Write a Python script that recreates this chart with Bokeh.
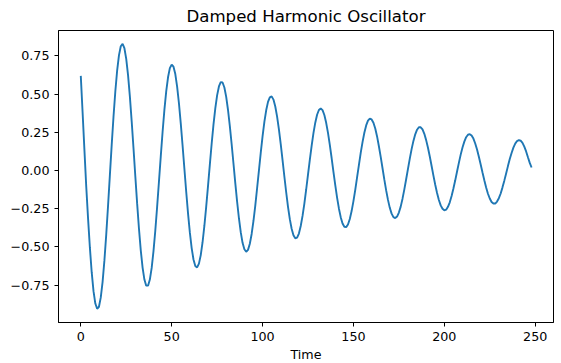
from bokeh.plotting import figure
from bokeh.models import Range1d, FixedTicker, CustomJSTickFormatter
from bokeh.embed import file_html
from bokeh.resources import INLINE

title_text = "Damped Harmonic Oscillator"
x_label = "Time"

# sample times (one per time unit, 0 .. 248)
time = list(range(249))

# displacement
displacement = [
    0.619, 0.38, 0.135, -0.104, -0.313, -0.503, -0.665, -0.789, -0.870, -0.904,
    -0.891, -0.830, -0.728, -0.588, -0.419, -0.230, -0.032, 0.166, 0.352, 0.517,
    0.653, 0.753, 0.813, 0.828, 0.800, 0.730, 0.624, 0.485, 0.322, 0.146,
    -0.037, -0.215, -0.379, -0.522, -0.635, -0.713, -0.753, -0.753, -0.713, -0.637,
    -0.527, -0.392, -0.238, -0.073, 0.093, 0.252, 0.397, 0.518, 0.610, 0.670,
    0.693, 0.679, 0.631, 0.549, 0.440, 0.309, 0.164, 0.012, -0.139, -0.280,
    -0.405, -0.507, -0.582, -0.624, -0.634, -0.609, -0.553, -0.469, -0.361, -0.236,
    -0.100, 0.039, 0.175, 0.300, 0.407, 0.492, 0.550, 0.578, 0.576, 0.543,
    0.482, 0.396, 0.291, 0.172, 0.046, -0.082, -0.203, -0.312, -0.403, -0.473,
    -0.515, -0.531, -0.519, -0.479, -0.415, -0.330, -0.229, -0.116, 0.000, 0.115,
    0.223, 0.318, 0.394, 0.449, 0.479, 0.485, 0.464, 0.419, 0.353, 0.269,
    0.173, 0.068, -0.039, -0.142, -0.237, -0.318, -0.381, -0.423, -0.443, -0.439,
    -0.412, -0.363, -0.297, -0.216, -0.124, -0.027, 0.070, 0.162, 0.245, 0.313,
    0.365, 0.396, 0.406, 0.395, 0.363, 0.312, 0.246, 0.168, 0.082, -0.008,
    -0.095, -0.177, -0.248, -0.305, -0.346, -0.368, -0.370, -0.353, -0.317, -0.265,
    -0.200, -0.126, -0.045, 0.036, 0.115, 0.186, 0.247, 0.295, 0.326, 0.339,
    0.334, 0.313, 0.275, 0.223, 0.159, 0.089, 0.015, -0.060, -0.130, -0.192,
    -0.244, -0.282, -0.305, -0.311, -0.301, -0.275, -0.236, -0.184, -0.123, -0.057,
    0.011, 0.078, 0.140, 0.194, 0.237, 0.267, 0.283, 0.283, 0.269, 0.240,
    0.199, 0.149, 0.092, 0.030, -0.033, -0.093, -0.147, -0.193, -0.228, -0.250,
    -0.260, -0.256, -0.237, -0.208, -0.167, -0.118, -0.064, -0.006, 0.050, 0.104,
    0.151, 0.189, 0.218, 0.234, 0.238, 0.229, 0.209, 0.177, 0.137, 0.090,
    0.039, -0.013, -0.064, -0.111, -0.152, -0.183, -0.206, -0.216, -0.216, -0.203,
    -0.181, -0.150, -0.110, -0.066, -0.019, 0.029, 0.075, 0.115, 0.150, 0.176,
    0.193, 0.199, 0.195, 0.181, 0.156, 0.125, 0.087, 0.050, 0.020,
]

x_ticks = [0, 50, 100, 150, 200, 250]
y_ticks = [-0.75, -0.5, -0.25, 0.0, 0.25, 0.5, 0.75]

FONT = "DejaVu Sans"

p = figure(
    frame_width=495, frame_height=292,
    x_range=Range1d(-12.26, 260.06), y_range=Range1d(-0.994, 0.916),
    output_backend="svg", toolbar_location=None,
    title=title_text,
    min_border_left=58, min_border_right=3, min_border_top=29, min_border_bottom=41,
)

p.line(time, displacement, line_color="#1f77b4", line_width=1.9)

p.background_fill_color = "white"
p.border_fill_color = "white"
p.grid.visible = False
p.outline_line_color = "black"
p.outline_line_width = 1
p.outline_line_alpha = 1

p.title.text_font = FONT
p.title.text_font_size = "16.6px"
p.title.text_font_style = "normal"
p.title.text_color = "black"
p.title.align = "center"
p.title.standoff = 9

p.xaxis.ticker = FixedTicker(ticks=x_ticks)
p.yaxis.ticker = FixedTicker(ticks=y_ticks)
p.yaxis.formatter = CustomJSTickFormatter(
    code='return (tick < 0 ? "\u2212" : "") + Math.abs(tick).toFixed(2);'
)

for ax in (p.xaxis, p.yaxis):
    ax.axis_line_color = "black"
    ax.axis_line_width = 1
    ax.major_tick_line_color = "black"
    ax.major_tick_line_width = 1
    ax.major_tick_out = 4
    ax.major_tick_in = 0
    ax.minor_tick_line_color = None
    ax.major_label_text_font = FONT
    ax.major_label_text_font_size = "12.7px"
    ax.major_label_text_color = "black"
    ax.major_label_standoff = 5

p.xaxis.axis_label = x_label
p.xaxis.axis_label_text_font = FONT
p.xaxis.axis_label_text_font_size = "12.7px"
p.xaxis.axis_label_text_font_style = "normal"
p.xaxis.axis_label_text_color = "black"
p.xaxis.axis_label_standoff = 3

open("out.html", "w").write(file_html(p, INLINE))
